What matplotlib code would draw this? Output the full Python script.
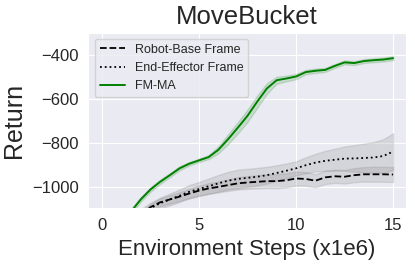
import numpy as np
import matplotlib as mpl
mpl.use("Agg")
from matplotlib import pyplot as plt
import seaborn as sns

# environment steps (x1e6)
steps = [0, 0.5, 1, 1.5, 2, 2.5, 3, 3.5, 4, 4.5, 5, 5.5, 6, 6.5, 7, 7.5,
         8, 8.5, 9, 9.5, 10, 10.5, 11, 11.5, 12, 12.5, 13, 13.5, 14, 14.5, 15]

# FM-MA
fmma_mean = [-1400, -1320, -1240, -1110, -1055, -1010, -975, -945, -914, -893,
             -878, -863, -830, -782, -730, -676, -612, -552, -515, -507,
             -498, -478, -472, -468, -450, -434, -437, -428, -424, -421, -415]
fmma_std = [12, 12, 12, 12, 10, 10, 10, 9, 9, 8, 8, 9, 16, 22, 26, 28,
            28, 24, 16, 13, 12, 10, 10, 9, 9, 9, 9, 9, 9, 9, 9]

# Robot-Base Frame
base_mean = [-1250, -1220, -1190, -1160, -1125, -1090, -1068, -1055, -1042, -1028,
             -1015, -1005, -998, -990, -982, -978, -975, -972, -972, -968,
             -960, -962, -970, -955, -950, -952, -945, -941, -941, -941, -942]
base_std = [15, 15, 15, 15, 15, 15, 18, 19, 20, 21, 22, 24, 25, 26, 28, 29,
            30, 31, 32, 32, 32, 31, 30, 30, 30, 31, 32, 33, 34, 34, 34]

# End-Effector Frame
ee_mean = [-1250, -1220, -1190, -1160, -1125, -1095, -1072, -1055, -1038, -1020,
           -1008, -995, -982, -970, -962, -957, -952, -945, -935, -925,
           -914, -900, -888, -880, -875, -870, -869, -867, -865, -858, -838]
ee_std = [25, 25, 25, 25, 25, 25, 25, 27, 28, 30, 32, 35, 38, 40, 42, 41,
          40, 38, 35, 33, 32, 36, 40, 45, 50, 55, 60, 65, 70, 76, 83]

sns.set_style("darkgrid")
plt.rcParams['font.family'] = ['Liberation Sans', 'DejaVu Sans']

fig = plt.figure(figsize=(4.15, 2.65), dpi=100)
ax = fig.add_subplot(111)
fig.subplots_adjust(left=0.2128, right=0.9776, bottom=0.214, top=0.877)

x = np.array(steps)


def band(mean, std, color, ls, label, alpha, lw):
    mean = np.array(mean)
    std = np.array(std)
    ax.fill_between(x, mean - std, mean + std, color=color, alpha=alpha)
    ax.plot(x, mean, color=color if color != 'gray' else 'black', ls=ls, lw=lw, label=label)


band(base_mean, base_std, 'gray', '--', 'Robot-Base Frame', 0.2, 1.3)
band(ee_mean, ee_std, 'gray', ':', 'End-Effector Frame', 0.2, 1.3)
band(fmma_mean, fmma_std, 'green', '-', 'FM-MA', 0.15, 1.4)

ax.set_xlim(-0.7, 15.65)
ax.set_ylim(-1095, -299)
ax.set_xticks([0, 5, 10, 15])
ax.set_yticks([-1000, -800, -600, -400])
ax.tick_params(labelsize=12)

ax.set_title("MoveBucket", fontsize=18.5)
ax.set_xlabel("Environment Steps (x1e6)", fontsize=16)
ax.set_ylabel("Return", fontsize=18)

ax.legend(loc='upper left', fontsize=9)

plt.savefig("out.png", dpi=100)
